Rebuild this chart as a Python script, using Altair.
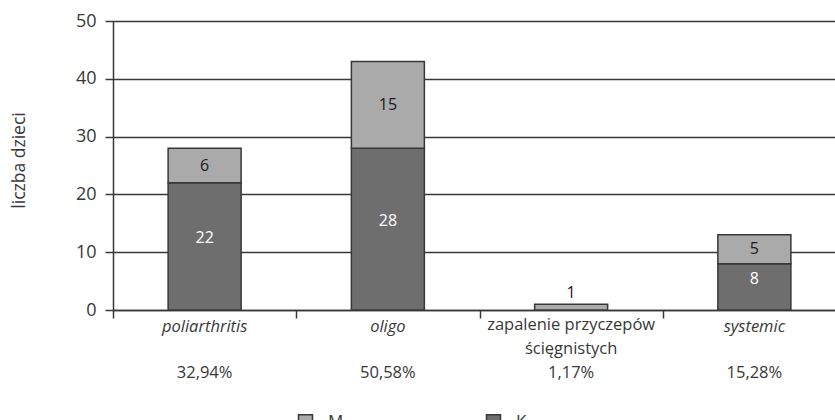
import altair as alt
import pandas as pd

# Categories of juvenile arthritis and counts of children by sex
categories = ["poliarthritis", "oligo", "zapalenie przyczepów ścięgnistych", "systemic"]
category_labels = ["poliarthritis", "oligo", "zapalenie przyczepów\nścięgnistych", "systemic"]
italic_label = [True, True, False, True]
k_values = [22, 28, 0, 8]
m_values = [6, 15, 1, 5]
shares = ["32,94%", "50,58%", "1,17%", "15,28%"]
y_ticks = [0, 10, 20, 30, 40, 50]

FONT = "Open Sans"
INK = "#383838"
COLOR_K = "#6e6e6e"
COLOR_M = "#aaaaaa"

rows = []
for cat, k, m in zip(categories, k_values, m_values):
    rows.append({"kategoria": cat, "płeć": "K", "liczba": k, "kolejność": 0})
    rows.append({"kategoria": cat, "płeć": "M", "liczba": m, "kolejność": 1})
long_df = pd.DataFrame(rows)

wide_df = pd.DataFrame({
    "kategoria": categories,
    "etykieta": category_labels,
    "kursywa": italic_label,
    "K": k_values,
    "M": m_values,
    "udział": shares,
})

x_scale = alt.Scale(domain=categories, range=[0, 733], paddingInner=0, paddingOuter=0)
y_scale = alt.Scale(domain=[0, 50], nice=False)

x_enc = alt.X(
    "kategoria:N",
    scale=x_scale,
    sort=categories,
    axis=alt.Axis(
        title=None, labels=False, tickBand="extent", tickSize=8,
        tickColor=INK, tickWidth=1.5, domainColor=INK, domainWidth=1.5, grid=False,
    ),
)

bars = alt.Chart(long_df).transform_filter("datum.liczba > 0").mark_bar(
    width=73, stroke=INK, strokeWidth=1.5
).encode(
    x=x_enc,
    y=alt.Y(
        "liczba:Q",
        stack="zero",
        scale=y_scale,
        axis=alt.Axis(
            title="liczba dzieci", values=y_ticks, grid=True, gridColor=INK, gridWidth=1.5,
            tickSize=8, tickColor=INK, tickWidth=1.5, domainColor=INK, domainWidth=1.5,
            labelFont=FONT, labelFontSize=18, labelColor=INK, labelPadding=9,
            titleFont=FONT, titleFontSize=17.5, titleFontWeight="normal", titleColor=INK,
            titleAngle=270, titleX=-94, titleY=139, titleAlign="center", titleBaseline="middle",
        ),
    ),
    color=alt.Color(
        "płeć:N",
        scale=alt.Scale(domain=["M", "K"], range=[COLOR_M, COLOR_K]),
        legend=alt.Legend(
            title=None, orient="none", legendX=184, legendY=392, direction="horizontal",
            symbolType="square", symbolSize=196, symbolStrokeColor=INK, symbolStrokeWidth=1.5,
            symbolOpacity=1, labelFont=FONT, labelFontSize=17, labelColor=INK,
            labelOffset=14, columnPadding=139,
        ),
    ),
    order=alt.Order("kolejność:Q"),
)

# Value labels inside the K segments
k_text = alt.Chart(wide_df).transform_filter("datum.K > 0").transform_calculate(
    pos="datum.K / 2"
).mark_text(font=FONT, fontSize=16, color="white", baseline="middle", dy=-8).encode(
    x=alt.X("kategoria:N", scale=x_scale, sort=categories),
    y=alt.Y("pos:Q", scale=y_scale),
    text=alt.Text("K:Q"),
)

# Value labels for the M segments (above the bar when the segment is too thin)
m_text = alt.Chart(wide_df).transform_filter("datum.M > 0").transform_calculate(
    pos="datum.M < 2 ? datum.K + datum.M + 2 : datum.K + datum.M / 2"
).mark_text(font=FONT, fontSize=16, color="#1a1a1a", baseline="middle").encode(
    x=alt.X("kategoria:N", scale=x_scale, sort=categories),
    y=alt.Y("pos:Q", scale=y_scale),
    text=alt.Text("M:Q"),
)

# Category names under the axis
name_italic = alt.Chart(wide_df).transform_filter("datum.kursywa").mark_text(
    font=FONT, fontSize=16.5, fontStyle="italic", color=INK, baseline="middle"
).encode(
    x=alt.X("kategoria:N", scale=x_scale, sort=categories),
    y=alt.value(306),
    text="etykieta:N",
)

name_plain = alt.Chart(wide_df).transform_filter("!datum.kursywa").mark_text(
    font=FONT, fontSize=16.5, color=INK, baseline="top", lineBreak="\n", lineHeight=24
).encode(
    x=alt.X("kategoria:N", scale=x_scale, sort=categories),
    y=alt.value(296),
    text="etykieta:N",
)

share_text = alt.Chart(wide_df).mark_text(
    font=FONT, fontSize=16.5, color=INK, baseline="middle"
).encode(
    x=alt.X("kategoria:N", scale=x_scale, sort=categories),
    y=alt.value(352),
    text="udział:N",
)

chart = alt.layer(bars, k_text, m_text, name_italic, name_plain, share_text).properties(
    width=722,
    height=289,
    autosize=alt.AutoSizeParams(type="none"),
    padding={"left": 113, "top": 21, "right": 0, "bottom": 110},
).configure_view(stroke=None).configure(background="white")

chart.save("out.html", embed_options={"renderer": "svg", "actions": False})
